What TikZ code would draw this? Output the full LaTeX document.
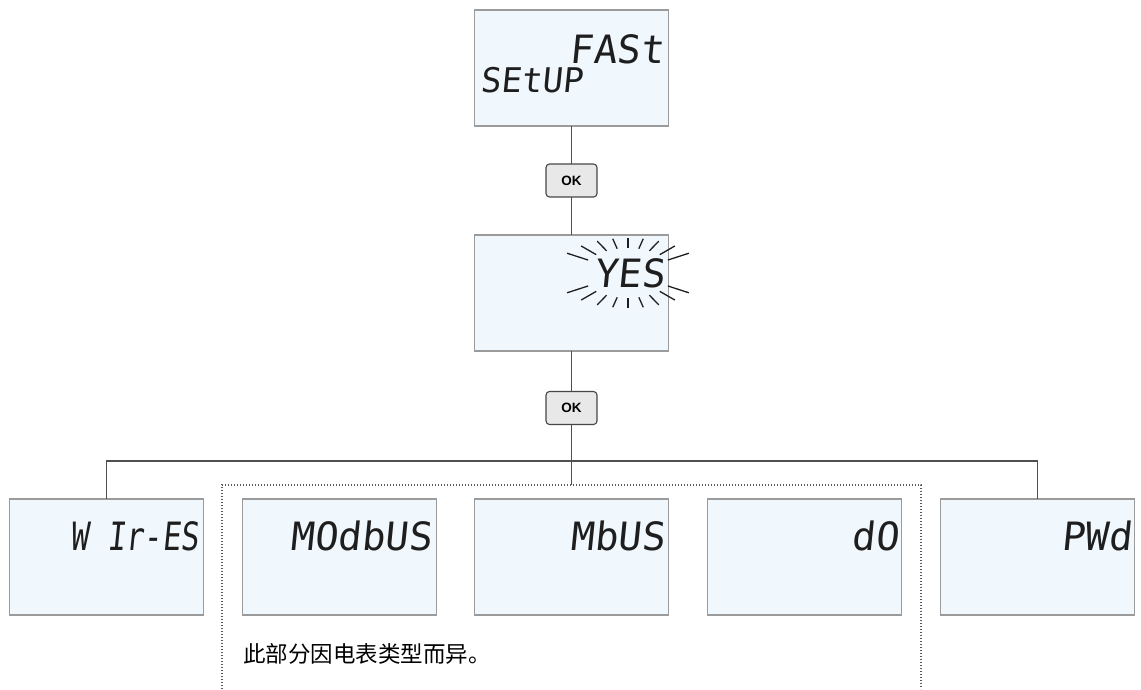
\documentclass[tikz,border=0pt]{standalone}
\usepackage{fontspec}
\newfontfamily\cjk{Noto Sans CJK SC}
\newfontfamily\uifont{Liberation Sans}
\newfontfamily\lcdfont{DejaVu Sans Mono}[FakeSlant=0.1]
\newfontfamily\lcdnarrow{DejaVu Sans Mono}[FakeSlant=0.1,FakeStretch=0.78]
\definecolor{boxfill}{RGB}{240,247,253}
\definecolor{boxborder}{RGB}{155,155,155}
\definecolor{linkgray}{RGB}{80,80,80}
\definecolor{okfill}{RGB}{232,232,232}
\definecolor{okborder}{RGB}{70,70,70}
\definecolor{lcdtext}{RGB}{30,30,30}
\definecolor{dotgray}{RGB}{90,90,90}
\begin{document}
\begin{tikzpicture}[x=1pt,y=-1pt,
  lcdbox/.style={draw=boxborder, fill=boxfill, line width=1.3pt, minimum width=194pt, minimum height=116pt, inner sep=0pt, outer sep=0pt},
  okbtn/.style={draw=okborder, fill=okfill, rounded corners=3.5pt, line width=1.1pt, minimum width=51pt, minimum height=33pt, inner sep=0pt, outer sep=0pt, font=\uifont\bfseries\fontsize{13.5}{15}\selectfont},
  link/.style={draw=linkgray, line width=1.9pt},
  lcdbig/.style={font=\lcdfont\fontsize{39}{39}\selectfont, text=lcdtext, anchor=base east, inner sep=0pt},
  lcdsmall/.style={font=\lcdfont\fontsize{34}{34}\selectfont, text=lcdtext, anchor=base west, inner sep=0pt},
  lcdcond/.style={font=\lcdnarrow\fontsize{39}{39}\selectfont, text=lcdtext, anchor=base east, inner sep=0pt},
  ray/.style={draw=lcdtext, line width=1.3pt},
  dotbox/.style={draw=dotgray, line width=1.2pt, dash pattern=on 1.2pt off 1.8pt},
  note/.style={font=\cjk\fontsize{22.5}{27}\selectfont, text=black, anchor=west, inner sep=0pt}
]
\useasboundingbox (0,0) rectangle (1141,689);

% boxes
\node[lcdbox] (top) at (571.5,68) {};
\node[lcdbox] (yes) at (571.5,293) {};
\node[lcdbox] (wires) at (106.5,557) {};
\node[lcdbox] (modbus) at (339.5,557) {};
\node[lcdbox] (mbus) at (571.5,557) {};
\node[lcdbox] (do) at (804.5,557) {};
\node[lcdbox] (pwd) at (1037.5,557) {};

% OK buttons
\node[okbtn] (ok1) at (571.5,180.5) {OK};
\node[okbtn] (ok2) at (571.5,408) {OK};

% connectors
\coordinate (bus) at (571.5,461);
\coordinate (dtop) at (571.5,485);
\draw[link] (top.south) -- (ok1.north);
\draw[link] (ok1.south) -- (yes.north);
\draw[link] (yes.south) -- (ok2.north);
\draw[link] (ok2.south) -- (bus);
\draw[link] (wires.north) |- (bus) -| (pwd.north);
\draw[link] (bus) -- (dtop);

% dotted group
\coordinate (dbl) at (222,689);
\coordinate (dtl) at (222,485);
\coordinate (dtr) at (921,485);
\coordinate (dbr) at (921,689);
\draw[dotbox] (dbl) -- (dtl) -- (dtr) -- (dbr);

% LCD texts
\node[lcdbig] (tfast) at (664,63) {FASt};
\node[lcdsmall] (tsetup) at (480,92) {SEtUP};
\node[lcdbig] (tyes) at (665,287) {YES};
\node[lcdcond] (twires) at (199,550) {W Ir-ES};
\node[lcdbig] (tmodbus) at (432,550) {MOdbUS};
\node[lcdbig] (tmbus) at (665,550) {MbUS};
\node[lcdbig] (tdo) at (899,550) {dO};
\node[lcdbig] (tpwd) at (1132,550) {PWd};

% glare rays round YES
\begin{scope}[shift={(628,273)}]
\foreach \t in {18,30,46,66,90,114,134,150,162}{
  \pgfmathsetmacro{\ri}{46.7*25/sqrt((25*cos(\t))^2+(46.7*sin(\t))^2)}
  \pgfmathsetmacro{\ro}{73.8*35/sqrt((35*cos(\t))^2+(73.8*sin(\t))^2)}
  \draw[ray] ({\ri*cos(\t)},{-\ri*sin(\t)}) -- ({\ro*cos(\t)},{-\ro*sin(\t)});
  \draw[ray] ({\ri*cos(\t)},{\ri*sin(\t)}) -- ({\ro*cos(\t)},{\ro*sin(\t)});
}
\end{scope}

% note
\node[note] (notetext) at (243,654) {此部分因电表类型而异。};
\end{tikzpicture}
\end{document}
